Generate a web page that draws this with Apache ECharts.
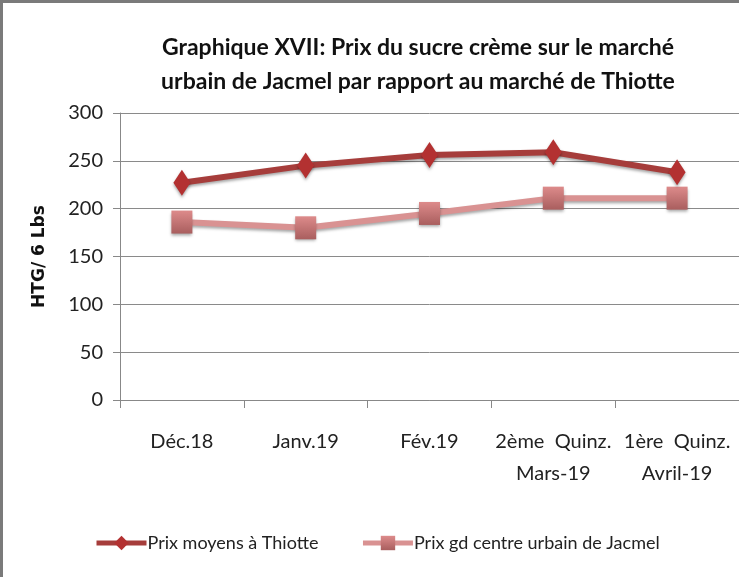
<!DOCTYPE html>
<html>
<head>
<meta charset="utf-8">
<script src="https://cdn.jsdelivr.net/npm/echarts@6/dist/echarts.min.js"></script>
<style>
  html, body { margin: 0; padding: 0; background: #fff; }
  #chart {
    width: 736px;
    height: 574px;
    border-top: 3px solid #7a7a7a;
    border-left: 3px solid #7a7a7a;
  }
</style>
</head>
<body>
<div id="chart"></div>
<script>
const categories = ['Déc.18', 'Janv.19', 'Fév.19', '2ème  Quinz.\nMars-19', '1ère  Quinz.\nAvril-19']
const thiotte = [227, 245, 256, 259, 238]
const jacmel = [186, 180, 195, 211, 211]
const seriesNames = ['Prix moyens à Thiotte', 'Prix gd centre urbain de Jacmel']
const yTicks = { min: 0, max: 300, interval: 50 }

const font = 'Lato, "Open Sans", sans-serif'
const chart = echarts.init(document.getElementById('chart'))

const shadow = {
  shadowBlur: 3,
  shadowColor: 'rgba(0,0,0,0.35)',
  shadowOffsetY: 2
}

const option = {
  animation: false,
  title: {
    text: 'Graphique XVII: Prix du sucre crème sur le marché\nurbain de Jacmel par rapport au marché de Thiotte',
    left: 410,
    textAlign: 'center',
    top: 23,
    textStyle: {
      fontFamily: font,
      fontWeight: 'bold',
      fontSize: 23,
      lineHeight: 34,
      color: '#111'
    }
  },
  legend: {
    bottom: 20,
    left: 86,
    itemWidth: 50,
    itemHeight: 18,
    itemGap: 42,
    lineStyle: { width: 5 },
    textStyle: { fontFamily: font, fontSize: 18, color: '#222', padding: [0, 0, 0, -4] },
    data: seriesNames
  },
  grid: {
    left: 117,
    right: -4,
    top: 110,
    bottom: 177
  },
  xAxis: {
    type: 'category',
    data: categories,
    axisLine: { lineStyle: { color: '#888', width: 1 } },
    axisTick: { show: true, length: 8, lineStyle: { color: '#888' } },
    axisLabel: {
      fontFamily: font,
      fontSize: 20,
      color: '#222',
      lineHeight: 32,
      margin: 26,
      interval: 0
    }
  },
  yAxis: {
    type: 'value',
    min: yTicks.min,
    max: yTicks.max,
    interval: yTicks.interval,
    name: 'HTG/ 6 Lbs',
    nameLocation: 'middle',
    nameGap: 72,
    nameTextStyle: {
      fontFamily: '"DejaVu Sans", sans-serif',
      fontWeight: 'bold',
      fontSize: 17,
      color: '#111'
    },
    axisLine: { show: true, lineStyle: { color: '#888' } },
    axisTick: { show: true, length: 7, lineStyle: { color: '#888' } },
    splitLine: { lineStyle: { color: '#8a8a8a', width: 1 } },
    axisLabel: {
      fontFamily: font,
      fontSize: 20,
      color: '#222',
      margin: 17
    }
  },
  series: [
    {
      name: seriesNames[0],
      type: 'line',
      data: thiotte,
      symbol: 'diamond',
      symbolSize: [17, 26],
      lineStyle: Object.assign({ color: '#a63d3b', width: 6 }, shadow),
      itemStyle: Object.assign({ color: '#b33131' }, shadow),
      z: 3
    },
    {
      name: seriesNames[1],
      type: 'line',
      data: jacmel,
      symbol: 'rect',
      symbolSize: [21, 23],
      lineStyle: Object.assign({ color: '#d99292', width: 6 }, shadow),
      itemStyle: Object.assign({
        color: new echarts.graphic.LinearGradient(0, 0, 0, 1, [
          { offset: 0, color: '#dd8b8b' },
          { offset: 1, color: '#a95e5e' }
        ])
      }, shadow),
      z: 2
    }
  ]
}

chart.setOption(option)
window.addEventListener('resize', chart.resize)
</script>
</body>
</html>
